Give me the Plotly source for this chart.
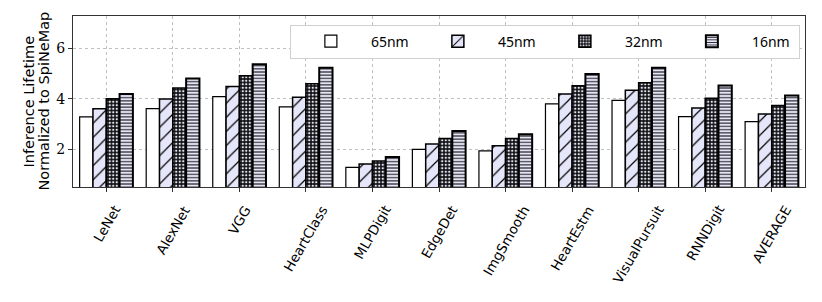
import plotly.graph_objects as go

categories = ["LeNet", "AlexNet", "VGG", "HeartClass", "MLPDigit", "EdgeDet",
              "ImgSmooth", "HeartEstm", "VisualPursuit", "RNNDigit", "AVERAGE"]
series_names = ["65nm", "45nm", "32nm", "16nm"]
v65 = [3.28, 3.60, 4.08, 3.67, 1.28, 1.99, 1.93, 3.79, 3.93, 3.29, 3.09]
v45 = [3.60, 3.98, 4.48, 4.05, 1.41, 2.20, 2.13, 4.18, 4.33, 3.63, 3.39]
v32 = [3.99, 4.42, 4.90, 4.59, 1.53, 2.42, 2.42, 4.51, 4.63, 4.01, 3.73]
v16 = [4.18, 4.80, 5.36, 5.22, 1.69, 2.72, 2.59, 4.97, 5.22, 4.52, 4.12]
yticks = [2, 4, 6]
ytitle_lines = ["Inference Lifetime", "Normalized to SpiNeMap"]

LAV = "#e6e6fa"
values = [v65, v45, v32, v16]
offsets = [-0.3, -0.1, 0.1, 0.3]
patterns = [
    dict(shape=""),
    dict(shape="/", fgcolor="black", bgcolor=LAV, size=10, solidity=0.12, fillmode="replace"),
    dict(shape=".", fgcolor=LAV, bgcolor="#111111", size=3.5, solidity=0.35, fillmode="replace"),
    dict(shape="-", fgcolor="#222222", bgcolor=LAV, size=3.2, solidity=0.35, fillmode="replace"),
]
fills = ["white", LAV, "#111111", LAV]
lws = [1.2, 1.5, 1.5, 2.0]

fig = go.Figure()
xidx = list(range(len(categories)))
for name, vals, off, pat, fc, lw in zip(series_names, values, offsets, patterns, fills, lws):
    fig.add_trace(go.Bar(
        x=[i + off for i in xidx], y=vals, name=name, width=0.2,
        marker=dict(color=fc, pattern=pat, line=dict(color="black", width=lw)),
    ))

# category labels rotated 60 degrees, centred under each tick (matplotlib style)
for i, lab in enumerate(categories):
    fig.add_annotation(x=i, xref="x", y=0, yref="paper", yanchor="top", xanchor="center",
                       yshift=-13, text=lab, textangle=-60, showarrow=False,
                       font=dict(family="DejaVu Sans", size=13.5, color="black"))

# two-line y-axis title with tight line spacing
for txt, xs in zip(ytitle_lines, [-45, -30]):
    fig.add_annotation(x=0, xref="paper", y=0.5, yref="paper", xanchor="center",
                       yanchor="middle", xshift=xs, text=txt, textangle=-90,
                       showarrow=False,
                       font=dict(family="DejaVu Sans", size=14.5, color="black"))

# page body has an 8px default margin, so the figure is sized 8px smaller
fig.update_layout(
    width=814, height=294,
    margin=dict(l=65, r=17, t=8, b=115, autoexpand=False),
    plot_bgcolor="white", paper_bgcolor="white",
    barmode="overlay",
    font=dict(family="DejaVu Sans", size=13, color="black"),
    showlegend=True,
    legend=dict(orientation="h", x=0.993, xanchor="right", y=0.95, yanchor="top",
                bgcolor="white", bordercolor="#d0d0d0", borderwidth=1,
                entrywidth=42, entrywidthmode="pixels", itemwidth=70,
                font=dict(family="Noto Sans", size=14), traceorder="normal"),
)
fig.update_xaxes(
    range=[-0.5, 10.5], tickmode="array", tickvals=xidx, showticklabels=False,
    ticks="outside", ticklen=4, tickcolor="#333", automargin=False,
    showline=True, linecolor="#333", linewidth=1, mirror=True,
    showgrid=True, gridcolor="#c0c0c0", griddash="dot", gridwidth=1,
    zeroline=False,
)
fig.update_yaxes(
    range=[0.5, 7.27], tickmode="array", tickvals=yticks, automargin=False,
    ticks="outside", ticklen=4, tickcolor="#333",
    showline=True, linecolor="#333", linewidth=1, mirror=True,
    showgrid=True, gridcolor="#c0c0c0", griddash="dot", gridwidth=1,
    tickfont=dict(family="DejaVu Serif", size=14), zeroline=False,
)
fig.write_html("out.html")
